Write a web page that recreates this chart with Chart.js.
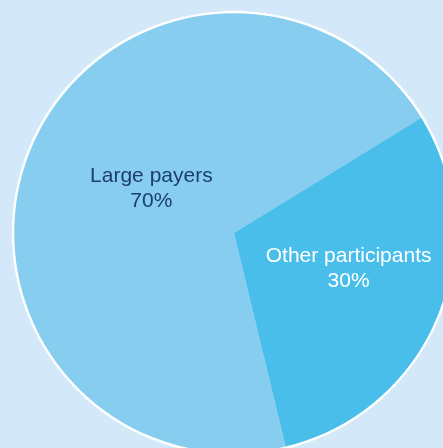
<!DOCTYPE html>
<html>
<head>
<meta charset="utf-8">
<script src="https://cdn.jsdelivr.net/npm/chart.js@4"></script>
<style>
    html, body { margin: 0; padding: 0; overflow: hidden; background: #d3e9f9; }
    #wrap { position: absolute; left: 0; top: 0; width: 468px; height: 466px; }
</style>
</head>
<body>
<div id="wrap"><canvas id="shareChart"></canvas></div>
<script>
// Share of payment value by participant group
const categories = ['Large payers', 'Other participants'];
const shares = [70, 30];
const sliceColors = ['#86cdf0', '#4abeeb'];
const labelColors = ['#1d3d6e', '#ffffff'];

// Writes "name / value%" inside each slice, nudged from the arc centre
const sliceLabels = {
    id: 'sliceLabels',
    afterDatasetsDraw(chart, args, opts) {
        const { ctx } = chart;
        const meta = chart.getDatasetMeta(0);
        ctx.save();
        ctx.font = opts.font;
        ctx.textAlign = 'center';
        ctx.textBaseline = 'alphabetic';
        meta.data.forEach((arc, i) => {
            const p = arc.getCenterPoint();
            const [dx, dy] = opts.nudge[i];
            const x = p.x + dx;
            const y = p.y + dy;
            ctx.fillStyle = labelColors[i];
            ctx.fillText(chart.data.labels[i], x, y - 6);
            ctx.fillText(shares[i] + '%', x, y + 19);
        });
        ctx.restore();
    }
};

new Chart(document.getElementById('shareChart'), {
    type: 'pie',
    data: {
        labels: categories,
        datasets: [{
            data: shares,
            backgroundColor: sliceColors,
            borderColor: '#ffffff',
            borderWidth: [0, 0],
            radius: 222
        }]
    },
    options: {
        responsive: true,
        maintainAspectRatio: false,
        rotation: 166.4,
        animation: false,
        layout: { padding: 0 },
        plugins: {
            legend: { display: false },
            tooltip: { enabled: false },
            sliceLabels: {
                font: '21px "Liberation Sans", Arial, sans-serif',
                nudge: [[20, -3], [12, -7]]
            }
        }
    },
    plugins: [sliceLabels, {
        // thin white rim round the whole pie
        id: 'rim',
        afterDatasetsDraw(chart) {
            const arc = chart.getDatasetMeta(0).data[0];
            const { ctx } = chart;
            ctx.save();
            ctx.beginPath();
            ctx.arc(arc.x, arc.y, arc.outerRadius - 1, 0, Math.PI * 2);
            ctx.strokeStyle = '#ffffff';
            ctx.lineWidth = 2.5;
            ctx.stroke();
            ctx.restore();
        }
    }]
});
</script>
</body>
</html>
